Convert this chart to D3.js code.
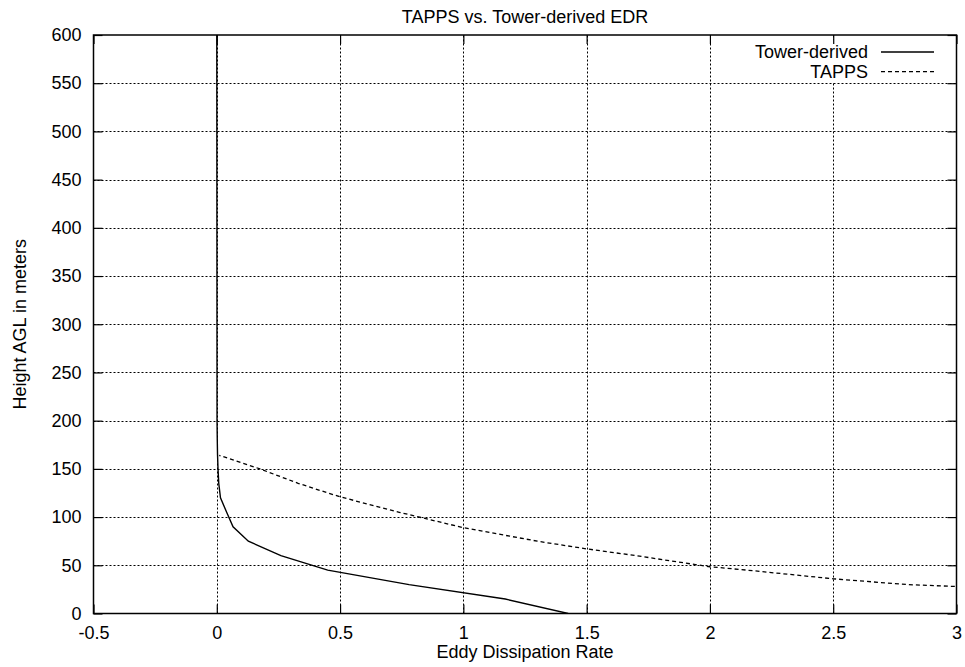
<!DOCTYPE html>
<html>
<head>
<meta charset="utf-8">
<script src="https://cdn.jsdelivr.net/npm/d3@7"></script>
<style>
  body { margin: 0; background: #fff; }
  svg { display: block; font-family: "Liberation Sans", Arial, sans-serif; }
</style>
</head>
<body>
<div class="chart"></div>
<script>
// values
const towerEdr    = [1.425, 1.17, 0.78, 0.45, 0.26, 0.128, 0.066, 0.04, 0.015, 0.008, 0.005, 0.003, 0.002, 0.001, 0.0];
const towerHeight = [0,     15,   30,   45,   60,   75,    90,    105,  120,   135,   150,   165,   180,   200,   600];

const tappsEdr    = [3.05, 3.0, 2.8, 2.5, 2.15, 2.0, 1.7, 1.5, 1.3, 1.0, 0.74, 0.5, 0.33, 0.175, 0.01];
const tappsHeight = [27.5, 28,  30,  36,  45,   48.5, 60, 67,  75,  89,  105,  121, 135,  150,   164];

const xTicks = [-0.5, 0, 0.5, 1, 1.5, 2, 2.5, 3];
const yTicks = [0, 50, 100, 150, 200, 250, 300, 350, 400, 450, 500, 550, 600];

const seriesNames = ["Tower-derived", "TAPPS"];

const width = 965, height = 667;
const margin = { top: 35, right: 8.5, bottom: 53.5, left: 93.5 };
const fontSize = 18;

const xScale = d3.scaleLinear().domain([-0.5, 3]).range([margin.left, width - margin.right]);
const yScale = d3.scaleLinear().domain([0, 600]).range([height - margin.bottom, margin.top]);

const svg = d3.select(".chart").append("svg")
  .attr("width", width)
  .attr("height", height);

const x0 = margin.left, x1 = width - margin.right;
const y0 = height - margin.bottom, y1 = margin.top;
const tickLen = 9;

// grid (dotted)
const grid = svg.append("g").attr("stroke", "#000").attr("stroke-width", 1)
  .attr("stroke-dasharray", "2,2").attr("fill", "none");
grid.selectAll(".gx").data(xTicks.filter(d => d > -0.5 && d < 3)).join("line")
  .attr("x1", d => Math.round(xScale(d)) + 0.5).attr("x2", d => Math.round(xScale(d)) + 0.5)
  .attr("y1", y0).attr("y2", y1);
grid.selectAll(".gy").data(yTicks.filter(d => d > 0 && d < 600)).join("line")
  .attr("y1", d => Math.round(yScale(d)) + 0.5).attr("y2", d => Math.round(yScale(d)) + 0.5)
  .attr("x1", x0).attr("x2", x1);

// legend area covers grid at top right
svg.append("rect").attr("x", 740).attr("y", 40).attr("width", 210).attr("height", 42).attr("fill", "#fff");

// axes with inward ticks, mirrored
const axB = svg.append("g").attr("transform", `translate(0,${y0})`)
  .call(d3.axisBottom(xScale).tickValues(xTicks).tickSizeInner(-tickLen).tickSizeOuter(0).tickPadding(13)
    .tickFormat(d => String(d)));
const axT = svg.append("g").attr("transform", `translate(0,${y1})`)
  .call(d3.axisTop(xScale).tickValues(xTicks).tickSizeInner(-tickLen).tickSizeOuter(0).tickFormat(""));
const axL = svg.append("g").attr("transform", `translate(${x0},0)`)
  .call(d3.axisLeft(yScale).tickValues(yTicks).tickSizeInner(-tickLen).tickSizeOuter(0).tickPadding(12));
const axR = svg.append("g").attr("transform", `translate(${x1},0)`)
  .call(d3.axisRight(yScale).tickValues(yTicks).tickSizeInner(-tickLen).tickSizeOuter(0).tickFormat(""));

[axB, axT, axL, axR].forEach(a => {
  a.select(".domain").remove();
  a.selectAll(".tick line").attr("stroke", "#000").attr("stroke-width", 1.2);
  a.selectAll("text").attr("fill", "#000").attr("font-size", fontSize)
    .attr("font-family", "'Liberation Sans', Arial, sans-serif");
});

// frame
svg.append("rect")
  .attr("x", x0).attr("y", y1).attr("width", x1 - x0).attr("height", y0 - y1)
  .attr("fill", "none").attr("stroke", "#000").attr("stroke-width", 1.5);

// clip for curves
svg.append("clipPath").attr("id", "clip").append("rect")
  .attr("x", x0).attr("y", y1).attr("width", x1 - x0).attr("height", y0 - y1);

const line = d3.line().x(d => xScale(d[0])).y(d => yScale(d[1]));

svg.append("path")
  .datum(towerEdr.map((v, i) => [v, towerHeight[i]]))
  .attr("clip-path", "url(#clip)")
  .attr("d", line)
  .attr("fill", "none").attr("stroke", "#000").attr("stroke-width", 1.4);

svg.append("path")
  .datum(tappsEdr.map((v, i) => [v, tappsHeight[i]]))
  .attr("clip-path", "url(#clip)")
  .attr("d", line)
  .attr("fill", "none").attr("stroke", "#000").attr("stroke-width", 1.3)
  .attr("stroke-dasharray", "4,3");

// legend
const legend = svg.append("g").selectAll("g").data(seriesNames).join("g")
  .attr("transform", (d, i) => `translate(0,${52 + i * 19.7})`);
legend.append("text")
  .attr("x", 868).attr("dy", "0.35em").attr("text-anchor", "end")
  .attr("font-size", fontSize).text(d => d);
legend.append("line")
  .attr("x1", 881).attr("x2", 934).attr("y1", 0).attr("y2", 0)
  .attr("stroke", "#000").attr("stroke-width", 1.3)
  .attr("stroke-dasharray", (d, i) => i === 0 ? null : "4,3");

// title and axis labels
const cx = (x0 + x1) / 2;
svg.append("text").attr("x", cx).attr("y", 23).attr("text-anchor", "middle")
  .attr("font-size", fontSize).text("TAPPS vs. Tower-derived EDR");
svg.append("text").attr("x", cx).attr("y", 657.5).attr("text-anchor", "middle")
  .attr("font-size", fontSize).text("Eddy Dissipation Rate");
svg.append("text").attr("transform", `translate(25.5,${(y0 + y1) / 2}) rotate(-90)`)
  .attr("text-anchor", "middle").attr("font-size", fontSize).text("Height AGL in meters");
</script>
</body>
</html>
